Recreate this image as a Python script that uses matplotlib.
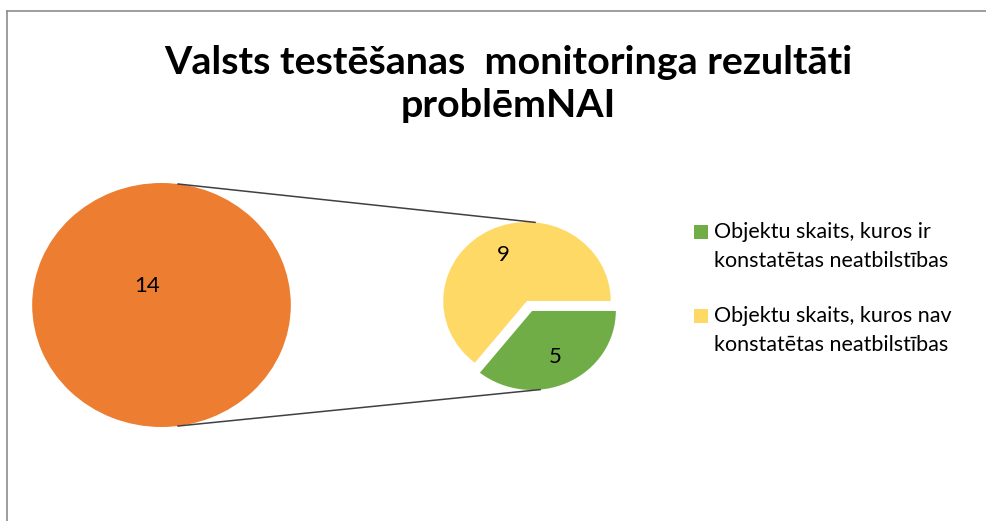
import numpy as np
import matplotlib.pyplot as plt
from matplotlib.patches import Patch, Rectangle
from matplotlib.legend_handler import HandlerPatch

# ---- data ----
title_text = "Valsts testēšanas  monitoringa rezultāti\nproblēmNAI"
big_values = [14]
big_labels = ["14"]
small_values = [9, 5]
small_labels = ["9", "5"]
legend_labels = ["Objektu skaits, kuros ir\nkonstatētas neatbilstības",
                 "Objektu skaits, kuros nav\nkonstatētas neatbilstības"]
color_big = "#ED7D31"
color_yellow = "#FFD966"
color_green = "#70AD47"

W, H = 986, 521
SX = 1.06  # horizontal stretch of the original picture
FONT = ["Lato", "DejaVu Sans"]

fig = plt.figure(figsize=(W / 100, H / 100), dpi=100)
ax = fig.add_axes([0, 0, 1, 1])


def P(x, y):
    return (x / SX, H - y)


big_c = P(161.5, 305)
big_r = 122
small_c = P(527, 301)
small_r = 79
expl = 0.14 * small_r

ax.pie(big_values, colors=[color_big], center=big_c, radius=big_r,
       startangle=-53, labels=big_labels, labeldistance=0.19,
       textprops=dict(ha="center", va="center", fontsize=16, family=FONT),
       wedgeprops=dict(linewidth=0))

wedges, texts = ax.pie(small_values, colors=[color_yellow, color_green],
                       center=small_c, radius=small_r, startangle=0,
                       explode=[0, expl], labels=small_labels,
                       labeldistance=0.645,
                       textprops=dict(ha="center", va="center", fontsize=16,
                                      family=FONT),
                       wedgeprops=dict(linewidth=0))

# connector lines (from geometry of the two pies)
ang = np.deg2rad(83)
ang2 = np.deg2rad(84)
green_mid = np.deg2rad(360 * (small_values[0] + small_values[1] / 2) / sum(small_values))
gdx = expl * np.cos(green_mid)
gdy = expl * np.sin(green_mid)
ax.plot([big_c[0] + big_r * np.cos(ang), small_c[0] + small_r * np.cos(ang2)],
        [big_c[1] + big_r * np.sin(ang), small_c[1] + small_r * np.sin(ang2)],
        color="#404040", lw=1.1, solid_capstyle="butt")
ax.plot([big_c[0] + big_r * np.cos(-ang), small_c[0] + gdx + small_r * np.cos(-ang2)],
        [big_c[1] + big_r * np.sin(-ang), small_c[1] + gdy + small_r * np.sin(-ang2)],
        color="#404040", lw=1.1, solid_capstyle="butt")

ax.set_aspect("auto")
ax.set_xlim(0, W / SX)
ax.set_ylim(0, H)
ax.axis("off")

# chart area border (cut by the image edge)
fig.add_artist(plt.Line2D([7 / W, 7 / W], [0, 1 - 10.5 / H], color="#8C8C8C", lw=1.2,
                          transform=fig.transFigure))
fig.add_artist(plt.Line2D([7 / W, 1], [1 - 10.5 / H, 1 - 10.5 / H], color="#8C8C8C", lw=1.2,
                          transform=fig.transFigure))

fig.text(508 / W, 1 - 84 / H, title_text, ha="center", va="center",
         multialignment="center", fontsize=28.4, fontweight="bold",
         family=FONT, linespacing=1.3)


def top_square(legend, orig_handle, xdescent, ydescent, width, height, fontsize):
    return Rectangle((-xdescent, -ydescent + 0.7 * fontsize), width, height)


handles = [Patch(facecolor=color_green), Patch(facecolor=color_yellow)]
leg = fig.legend(handles, legend_labels, loc="upper left",
                 bbox_to_anchor=(694 / W, 1 - 222 / H), frameon=False,
                 prop=dict(family=FONT, size=15.5),
                 handlelength=0.65, handleheight=0.65, handletextpad=0.3,
                 labelspacing=1.65, borderpad=0, borderaxespad=0,
                 handler_map={Patch: HandlerPatch(patch_func=top_square)})
for t in leg.get_texts():
    t.set_linespacing(1.55)

fig.savefig("out.png", dpi=100, facecolor="white")
